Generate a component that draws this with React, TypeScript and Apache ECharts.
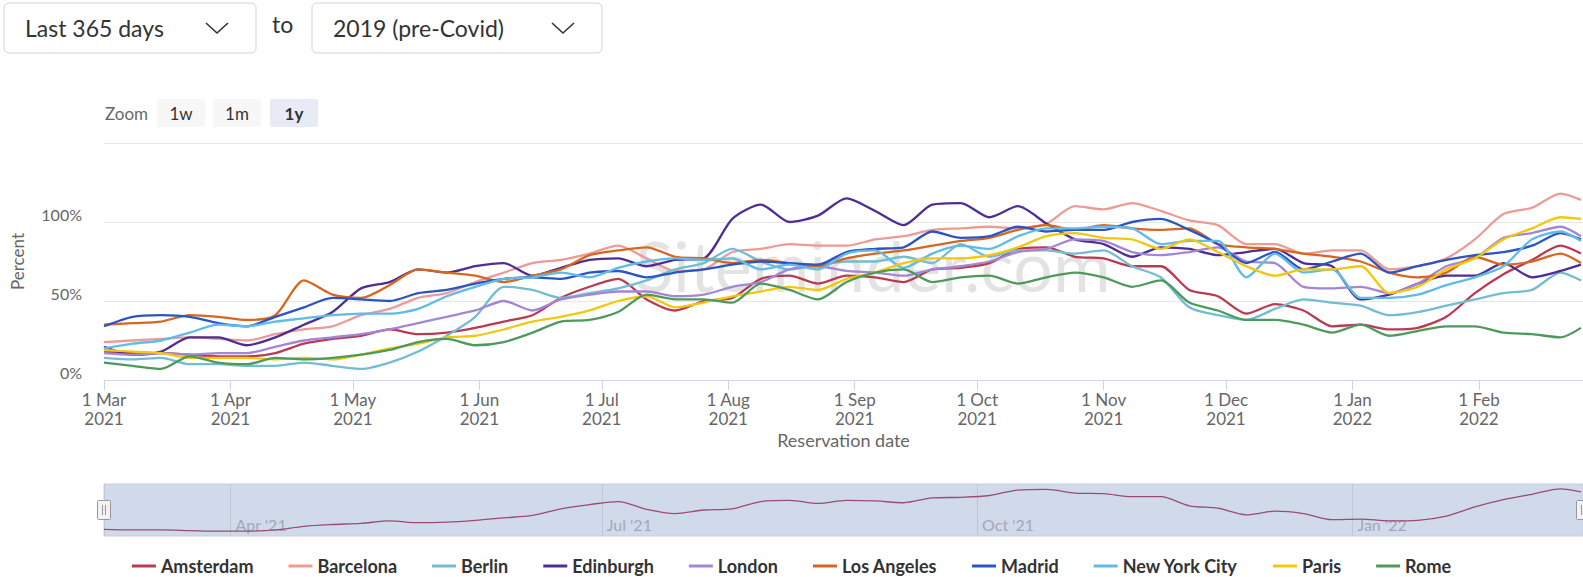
import React, { useEffect, useRef } from "react";
import * as echarts from "echarts";

const dates = [
  "2021-03-01","2021-03-08","2021-03-15","2021-03-22","2021-03-29",
  "2021-04-05","2021-04-12","2021-04-19","2021-04-26",
  "2021-05-03","2021-05-10","2021-05-17","2021-05-24","2021-05-31",
  "2021-06-07","2021-06-14","2021-06-21","2021-06-28",
  "2021-07-05","2021-07-12","2021-07-19","2021-07-26",
  "2021-08-02","2021-08-09","2021-08-16","2021-08-23","2021-08-30",
  "2021-09-06","2021-09-13","2021-09-20","2021-09-27",
  "2021-10-04","2021-10-11","2021-10-18","2021-10-25",
  "2021-11-01","2021-11-08","2021-11-15","2021-11-22","2021-11-29",
  "2021-12-06","2021-12-13","2021-12-20","2021-12-27",
  "2022-01-03","2022-01-10","2022-01-17","2022-01-24","2022-01-31",
  "2022-02-07","2022-02-14","2022-02-21","2022-02-26",
];

const amsterdam = [18,17,17,16,15, 15,17,23,26,28, 32,29,30,33,37, 41,52,59,64,51, 44,50,52,64,66, 61,66,65,62,70, 71,74,83,84,78, 77,72,72,57,53, 42,48,44,34,35, 32,33,40,55,67, 76,85,80];
const barcelona = [24,25,26,27,26, 25,29,32,34,41, 45,52,55,62,68, 74,76,80,85,77, 69,70,81,83,86, 85,85,89,91,95, 96,97,96,99,110, 108,112,107,101,98, 86,86,80,82,82, 70,72,77,89,105, 109,118,114];
const berlin = [14,13,14,10,10, 9,9,11,9,7, 11,18,28,40,59, 57,52,55,58,63, 70,74,83,75,70, 73,75,75,78,74, 86,78,82,82,80, 82,72,65,46,41, 38,45,51,49,47, 41,43,47,51,55, 57,68,63];
const edinburgh = [21,16,18,27,27, 22,27,35,43,58, 62,70,68,72,74, 66,71,76,77,72, 76,77,102,111,100, 104,115,107,98,111, 112,103,110,99,89, 86,78,84,83,79, 81,83,74,72,51, 54,61,66,66,74, 65,69,73];
const london = [17,16,17,16,17, 17,21,25,27,29, 32,36,40,44,50, 44,51,54,56,56, 53,54,59,62,70, 72,69,68,66,70, 72,75,81,83,89, 88,81,79,81,84, 75,74,59,58,59, 55,61,72,77,90, 93,97,91];
const losAngeles = [35,36,37,41,40, 38,41,63,54,52, 60,70,68,66,62, 66,70,79,82,84, 78,77,74,76,74, 72,77,80,82,85, 88,90,95,98,95, 98,96,95,96,86, 84,83,80,78,75, 68,65,68,78,73, 75,80,74];
const madrid = [34,40,41,40,36, 34,40,46,52,51, 50,55,57,61,64, 65,64,68,69,65, 68,70,73,75,74, 73,81,83,84,94, 90,91,97,94,95, 95,100,102,95,86, 74,81,70,75,80, 68,72,76,79,81, 85,93,89];
const newYorkCity = [20,23,25,30,35, 34,37,39,41,42, 42,45,53,59,64, 65,68,65,71,75, 77,76,77,70,73, 70,80,82,71,80, 85,83,91,96,96, 97,96,86,88,88, 65,80,68,70,52, 52,54,60,65,72, 89,94,88];
const paris = [19,18,17,14,14, 14,13,14,13,16, 20,23,27,28,32, 37,40,44,50,53, 46,49,53,56,59, 57,64,68,74,77, 77,79,84,91,93, 90,89,83,89,81, 72,66,70,70,72, 55,59,70,77,89, 96,103,102];
const rome = [11,9,7,15,11, 10,14,13,14,16, 19,24,26,22,24, 30,37,38,43,54, 51,51,49,61,57, 51,62,68,70,62, 65,66,61,65,68, 65,59,63,49,44, 38,38,35,30,35, 28,31,34,34,30, 29,27,33];

const cities = ["Amsterdam","Barcelona","Berlin","Edinburgh","London","Los Angeles","Madrid","New York City","Paris","Rome"];
const cityValues = [amsterdam, barcelona, berlin, edinburgh, london, losAngeles, madrid, newYorkCity, paris, rome];
const cityColors = ["#b83b52","#ee9b96","#72bcd4","#4e2d96","#a486d6","#d9661f","#2b55c2","#5fbbe8","#f2c80f","#4e9a5c"];

const yTicks = [0, 50, 100, 150];
const monthNames = ["Jan","Feb","Mar","Apr","May","Jun","Jul","Aug","Sep","Oct","Nov","Dec"];

const DAY = 24 * 3600 * 1000;
const FONT = "Lato";

export default function App() {
  const ref = useRef<HTMLDivElement>(null);

  useEffect(() => {
    if (!ref.current) return;
    const chart = echarts.init(ref.current, undefined, { renderer: "svg" });
    const xMin = new Date(2021, 2, 1).getTime();
    const xMax = new Date(2022, 1, 26, 12).getTime();

    const lineSeries = cities.map((name, i) => ({
      name,
      type: "line",
      xAxisIndex: 0,
      yAxisIndex: 0,
      data: dates.map((d, j) => [d, cityValues[i][j]]),
      showSymbol: false,
      symbol: "none",
      smooth: 0.25,
      color: cityColors[i],
      lineStyle: { width: 2.3, color: cityColors[i] },
      z: 3,
    }));

    const navSeries = {
      name: "navigator",
      type: "line",
      xAxisIndex: 1,
      yAxisIndex: 1,
      data: dates.map((d, j) => [d, amsterdam[j]]),
      showSymbol: false,
      symbol: "none",
      smooth: 0.3,
      lineStyle: { width: 1.3, color: "#9b4c72" },
      z: 3,
      silent: true,
    };

    const dropdown = (x: number, w: number, label: string) => [
      {
        type: "rect",
        shape: { x, y: 3, width: w, height: 50, r: 5 },
        style: { fill: "#fff", stroke: "#cfd3dc", lineWidth: 1 },
        z: 10,
      },
      {
        type: "text",
        x: x + 21,
        y: 28,
        style: { text: label, fontFamily: FONT, fontSize: 23, fill: "#333", verticalAlign: "middle", align: "left" },
        z: 11,
      },
      {
        type: "polyline",
        shape: { points: [[x + w - 50, 23], [x + w - 39, 33], [x + w - 28, 23]] },
        style: { stroke: "#333", lineWidth: 1.6, fill: null },
        z: 11,
      },
    ];

    const zoomBtn = (x: number, label: string, active: boolean) => [
      {
        type: "rect",
        shape: { x, y: 99, width: 48, height: 28, r: 2 },
        style: { fill: active ? "#e6ebf5" : "#f7f7f7" },
        z: 10,
      },
      {
        type: "text",
        x: x + 24,
        y: 113,
        style: { text: label, fontFamily: FONT, fontSize: 17, fill: "#333", fontWeight: active ? "bold" : "normal", align: "center", verticalAlign: "middle" },
        z: 11,
      },
    ];

    const option: any = {
      animation: false,
      backgroundColor: "#ffffff",
      textStyle: { fontFamily: FONT },
      grid: [
        { left: 104, right: 0, top: 143, bottom: 197, containLabel: false, outerBoundsMode: "none" },
        { left: 104, right: 0, top: 484, height: 52, containLabel: false, outerBoundsMode: "none", show: true, backgroundColor: "#d1daeb", borderColor: "#c9cedb", borderWidth: 1 },
      ],
      xAxis: [
        {
          type: "time",
          gridIndex: 0,
          min: xMin,
          max: xMax,
          minInterval: 28 * DAY,
          maxInterval: 31 * DAY,
          axisLine: { show: true, lineStyle: { color: "#ccd6eb", width: 1 } },
          axisTick: { show: true, length: 10, lineStyle: { color: "#ccd6eb" } },
          splitLine: { show: false },
          axisLabel: {
            formatter: (v: number) => {
              const d = new Date(v);
              return d.getDate() + " " + monthNames[d.getMonth()] + "\n" + d.getFullYear();
            },
            color: "#666",
            fontSize: 17,
            lineHeight: 19,
            margin: 10,
            hideOverlap: false,
          },
          name: "Reservation date",
          nameLocation: "middle",
          nameGap: 51,
          nameTextStyle: { color: "#666", fontSize: 18, fontFamily: FONT },
        },
        {
          type: "time",
          gridIndex: 1,
          min: xMin,
          max: xMax,
          splitNumber: 4,
          axisLine: { show: false },
          axisTick: { show: false },
          splitLine: { show: true, lineStyle: { color: "#bfc6d8", width: 1 } },
          axisLabel: {
            inside: true,
            formatter: (v: number) => {
              const d = new Date(v);
              return monthNames[d.getMonth()] + " '" + String(d.getFullYear()).slice(2);
            },
            color: "#a3a8b8",
            fontSize: 16,
            align: "left",
            padding: [0, 0, 0, 5],
            margin: 4,
          },
        },
      ],
      yAxis: [
        {
          type: "value",
          gridIndex: 0,
          min: yTicks[0],
          max: yTicks[yTicks.length - 1],
          interval: 50,
          axisLine: { show: false },
          axisTick: { show: false },
          splitLine: { show: true, lineStyle: { color: "#e6e6e6", width: 1 } },
          axisLabel: {
            formatter: (v: number) => (v >= 150 ? "" : v + "%"),
            color: "#666",
            fontSize: 16,
            margin: 22,
            verticalAlign: "bottom",
          },
          name: "Percent",
          nameLocation: "middle",
          nameGap: 78,
          nameRotate: 90,
          nameTextStyle: { color: "#666", fontSize: 17, fontFamily: FONT },
        },
        { type: "value", gridIndex: 1, show: false, min: 7, max: 93 },
      ],
      legend: {
        data: cities,
        left: "center",
        top: 552,
        icon: "rect",
        itemWidth: 24,
        itemHeight: 3,
        itemGap: 35,
        textStyle: { color: "#333", fontSize: 18, fontWeight: "bold", fontFamily: FONT },
      },
      series: [...lineSeries, navSeries],
      graphic: [
        ...dropdown(4, 252, "Last 365 days"),
        {
          type: "text",
          x: 272,
          y: 24,
          style: { text: "to", fontFamily: FONT, fontSize: 23, fill: "#333", verticalAlign: "middle" },
          z: 11,
        },
        ...dropdown(312, 290, "2019 (pre-Covid)"),
        {
          type: "text",
          x: 105,
          y: 113,
          style: { text: "Zoom", fontFamily: FONT, fontSize: 17, fill: "#666", verticalAlign: "middle" },
          z: 11,
        },
        ...zoomBtn(157, "1w", false),
        ...zoomBtn(213, "1m", false),
        ...zoomBtn(270, "1y", true),
        {
          type: "text",
          x: 873,
          y: 265,
          silent: true,
          style: { text: "Siteminder.com", fontFamily: FONT, fontSize: 70, fill: "rgba(0,0,0,0.11)", align: "center", verticalAlign: "middle" },
          z: 0,
        },
        {
          type: "rect",
          shape: { x: 97.5, y: 500.5, width: 13, height: 19, r: 1 },
          style: { fill: "#f2f2f2", stroke: "#999", lineWidth: 1 },
          z: 20,
        },
        { type: "line", shape: { x1: 102.5, y1: 505, x2: 102.5, y2: 515 }, style: { stroke: "#999", lineWidth: 1 }, z: 21 },
        { type: "line", shape: { x1: 105.5, y1: 505, x2: 105.5, y2: 515 }, style: { stroke: "#999", lineWidth: 1 }, z: 21 },
        {
          type: "rect",
          shape: { x: 1576.5, y: 500.5, width: 13, height: 19, r: 1 },
          style: { fill: "#f2f2f2", stroke: "#999", lineWidth: 1 },
          z: 20,
        },
        { type: "line", shape: { x1: 1581.5, y1: 505, x2: 1581.5, y2: 515 }, style: { stroke: "#999", lineWidth: 1 }, z: 21 },
      ],
    };

    chart.setOption(option);
    return () => chart.dispose();
  }, []);

  return (
    <div
      ref={ref}
      style={{ position: "fixed", left: 0, top: 0, width: 1583, height: 577, background: "#fff" }}
    />
  );
}
